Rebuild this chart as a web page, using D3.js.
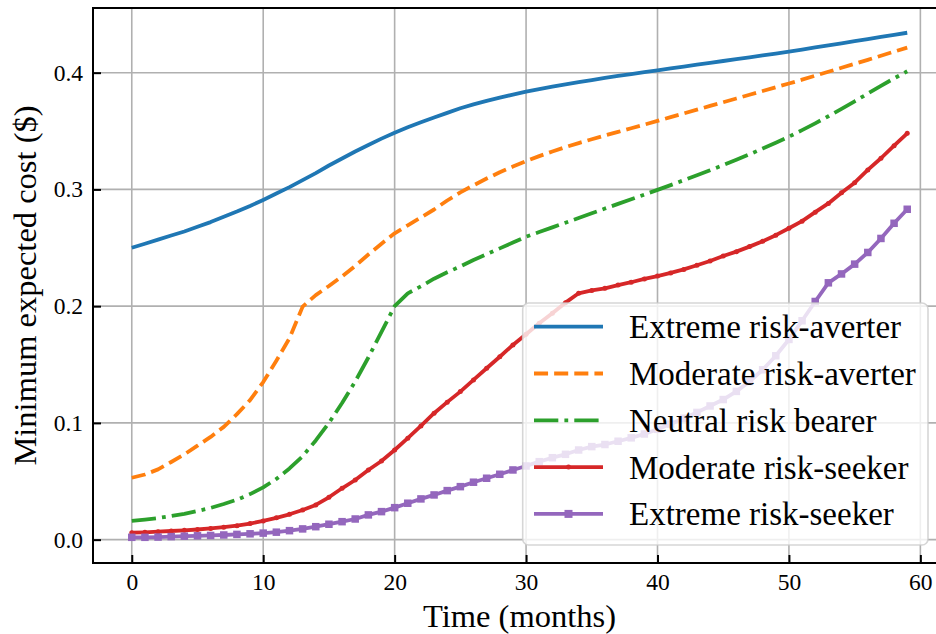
<!DOCTYPE html>
<html>
<head>
<meta charset="utf-8">
<script src="https://cdn.jsdelivr.net/npm/d3@7"></script>
<style>
  html, body { margin: 0; padding: 0; background: #ffffff; }
  svg { display: block; }
  svg text { font-family: "Liberation Serif", "Times New Roman", serif; fill: #000; }
</style>
</head>
<body>
<svg id="chart" width="936" height="634"></svg>
<script>
// Month index along the horizontal axis
const months = [0,1,2,3,4,5,6,7,8,9,10,11,12,13,14,15,16,17,18,19,
  20,21,22,23,24,25,26,27,28,29,30,31,32,33,34,35,36,37,38,39,
  40,41,42,43,44,45,46,47,48,49,50,51,52,53,54,55,56,57,58,59];

// Minimum expected cost per risk profile ($)
const extremeAverter = [0.250,0.2535,0.257,0.2605,0.264,0.268,0.272,0.2765,0.281,0.2858,
  0.291,0.2965,0.302,0.308,0.314,0.3205,0.3265,0.3325,0.338,0.3435,
  0.3486,0.3532,0.3575,0.3616,0.3656,0.3695,0.3728,0.3758,0.3786,0.3812,
  0.3837,0.3859,0.388,0.390,0.3919,0.3937,0.3955,0.3972,0.3988,0.4004,
  0.402,0.4036,0.4052,0.4068,0.4084,0.410,0.4116,0.4132,0.4148,0.4164,
  0.418,0.4198,0.4216,0.4234,0.4252,0.427,0.4288,0.4306,0.4324,0.4342];

const moderateAverter = [0.053,0.0558,0.0602,0.0665,0.073,0.0805,0.088,0.0966,0.1075,0.1195,
  0.135,0.1533,0.1725,0.1996,0.2095,0.2173,0.2255,0.2345,0.2443,0.2535,
  0.2624,0.2692,0.276,0.2828,0.2905,0.2975,0.3035,0.3093,0.3147,0.3196,
  0.3242,0.3285,0.3325,0.3362,0.3397,0.343,0.3462,0.3493,0.3524,0.3555,
  0.3587,0.3619,0.3651,0.3683,0.3715,0.3747,0.3779,0.3811,0.3843,0.3875,
  0.3907,0.394,0.3974,0.4008,0.4042,0.4076,0.411,0.4145,0.418,0.4215];

const neutralBearer = [0.016,0.0172,0.0185,0.0202,0.022,0.0245,0.0272,0.0305,0.0342,0.039,
  0.0448,0.052,0.061,0.0715,0.085,0.100,0.117,0.1355,0.156,0.178,
  0.200,0.211,0.217,0.2235,0.229,0.234,0.2395,0.2445,0.2495,0.2545,
  0.2595,0.2635,0.2675,0.2715,0.2755,0.2796,0.2836,0.2876,0.2916,0.2956,
  0.2996,0.3037,0.3079,0.3121,0.3164,0.3208,0.3254,0.3301,0.335,0.340,
  0.3452,0.3508,0.3566,0.3627,0.369,0.3755,0.3821,0.3887,0.3951,0.4012];

const moderateSeeker = [0.006,0.0063,0.0068,0.0074,0.008,0.0087,0.0096,0.0107,0.012,0.0138,
  0.016,0.0187,0.0217,0.0254,0.0297,0.0363,0.044,0.0511,0.0597,0.0674,
  0.0768,0.0869,0.0974,0.1083,0.1178,0.1268,0.1368,0.1468,0.1567,0.1668,
  0.176,0.1853,0.1939,0.203,0.211,0.2135,0.2153,0.2181,0.2205,0.2233,
  0.2258,0.2285,0.2315,0.235,0.2387,0.243,0.2467,0.251,0.2556,0.2608,
  0.2667,0.2728,0.2805,0.288,0.2972,0.3058,0.3167,0.3267,0.3375,0.3481];

const extremeSeeker = [0.002,0.002,0.0022,0.0026,0.003,0.0033,0.0036,0.004,0.0045,0.005,
  0.0056,0.0064,0.0077,0.0092,0.0111,0.0132,0.0154,0.0177,0.0212,0.024,
  0.0274,0.0312,0.0349,0.0383,0.042,0.0454,0.0492,0.0526,0.056,0.0597,
  0.0631,0.0668,0.0702,0.0731,0.0768,0.0797,0.0815,0.0843,0.0872,0.0905,
  0.0945,0.099,0.104,0.109,0.1145,0.120,0.127,0.1355,0.1455,0.1575,
  0.1715,0.1875,0.204,0.220,0.2276,0.236,0.246,0.258,0.271,0.283];

const seriesNames = ["Extreme risk-averter", "Moderate risk-averter", "Neutral risk bearer",
  "Moderate risk-seeker", "Extreme risk-seeker"];
const seriesColors = ["#1f77b4", "#ff7f0e", "#2ca02c", "#d62728", "#9467bd"];

const xTicks = [0, 10, 20, 30, 40, 50, 60];
const yTicks = [0.0, 0.1, 0.2, 0.3, 0.4];

const xTitle = "Time (months)";
const yTitle = "Minimum expected cost ($)";

const SERIF = "'Liberation Serif', 'Times New Roman', serif";

// Line style for each series
const LW = 3.8;
const styles = [
  { dash: null, marker: null },
  { dash: `${3.7*LW} ${1.6*LW}`, marker: null },
  { dash: `${6.4*LW} ${1.6*LW} ${1*LW} ${1.6*LW}`, marker: null },
  { dash: null, marker: "dot" },
  { dash: null, marker: "square" }
];

const seriesValues = [extremeAverter, moderateAverter, neutralBearer, moderateSeeker, extremeSeeker];
const series = seriesNames.map((name, i) => ({
  name,
  color: seriesColors[i],
  style: styles[i],
  points: months.map((m, j) => ({ x: m, y: seriesValues[i][j] }))
}));

// Plot frame
const svg = d3.select("#chart");
const plot = { left: 93, top: 8, right: 946, bottom: 563 };

const x = d3.scaleLinear().domain([-2.95, 61.95]).range([plot.left, plot.right]);
const y = d3.scaleLinear().domain([-0.02, 0.4554]).range([plot.bottom, plot.top]);

svg.append("defs").append("clipPath").attr("id", "plotClip")
  .append("rect")
  .attr("x", plot.left).attr("y", plot.top)
  .attr("width", plot.right - plot.left).attr("height", plot.bottom - plot.top);

// Grid
const grid = svg.append("g").attr("clip-path", "url(#plotClip)");
grid.selectAll("line.vgrid").data(xTicks).join("line")
  .attr("x1", d => x(d)).attr("x2", d => x(d))
  .attr("y1", plot.top).attr("y2", plot.bottom)
  .attr("stroke", "#b0b0b0").attr("stroke-width", 1.6);
grid.selectAll("line.hgrid").data(yTicks).join("line")
  .attr("x1", plot.left).attr("x2", plot.right)
  .attr("y1", d => y(d)).attr("y2", d => y(d))
  .attr("stroke", "#b0b0b0").attr("stroke-width", 1.6);

// Series lines and markers
const lineGen = d3.line().x(d => x(d.x)).y(d => y(d.y));
const marks = svg.append("g").attr("clip-path", "url(#plotClip)");

series.forEach(s => {
  const g = marks.append("g");
  g.append("path")
    .datum(s.points)
    .attr("d", lineGen)
    .attr("fill", "none")
    .attr("stroke", s.color)
    .attr("stroke-width", LW)
    .attr("stroke-linejoin", "round")
    .attr("stroke-dasharray", s.style.dash);
  if (s.style.marker === "dot") {
    g.selectAll("circle").data(s.points).join("circle")
      .attr("cx", d => x(d.x)).attr("cy", d => y(d.y))
      .attr("r", 2.5).attr("fill", s.color);
  } else if (s.style.marker === "square") {
    const sz = 7.5;
    g.selectAll("rect").data(s.points).join("rect")
      .attr("x", d => x(d.x) - sz / 2).attr("y", d => y(d.y) - sz / 2)
      .attr("width", sz).attr("height", sz).attr("fill", s.color);
  }
});

// Axes with inward ticks
const xAxis = d3.axisBottom(x).tickValues(xTicks).tickFormat(d3.format("d"))
  .tickSizeInner(-8).tickSizeOuter(0).tickPadding(10);
const yAxis = d3.axisLeft(y).tickValues(yTicks).tickFormat(d3.format(".1f"))
  .tickSizeInner(-8).tickSizeOuter(0).tickPadding(10);

const gx = svg.append("g").attr("transform", `translate(0,${plot.bottom})`).call(xAxis);
const gy = svg.append("g").attr("transform", `translate(${plot.left},0)`).call(yAxis);
[gx, gy].forEach(g => {
  g.attr("font-family", SERIF).attr("font-size", 23.5);
  g.select(".domain").remove();
  g.selectAll(".tick line").attr("stroke", "#000").attr("stroke-width", 2);
  g.selectAll(".tick text")
    .attr("font-family", SERIF)
    .style("font-family", SERIF)
    .style("font-size", "23.5px").attr("fill", "#000");
});
gx.selectAll(".tick text").attr("dy", "0.71em");

// Spines
svg.append("rect")
  .attr("x", plot.left).attr("y", plot.top)
  .attr("width", plot.right - plot.left).attr("height", plot.bottom - plot.top)
  .attr("fill", "none").attr("stroke", "#000").attr("stroke-width", 2);

// Axis titles
svg.append("text")
  .attr("x", (plot.left + plot.right) / 2).attr("y", 627)
  .attr("text-anchor", "middle")
  .style("font-size", "32.5px")
  .text(xTitle);

svg.append("text")
  .attr("transform", `translate(35.5,${(plot.top + plot.bottom) / 2}) rotate(-90)`)
  .attr("text-anchor", "middle")
  .style("font-size", "32.5px")
  .text(yTitle);

// Legend, lower right
const legend = svg.append("g");
const lg = { x: 522.7, y: 303, w: 405.3, h: 242, row0: 326.7, step: 46.8, hx1: 534, hx2: 603, tx: 629 };
legend.append("rect")
  .attr("x", lg.x).attr("y", lg.y).attr("width", lg.w).attr("height", lg.h)
  .attr("rx", 6).attr("ry", 6)
  .attr("fill", "#ffffff").attr("fill-opacity", 0.8)
  .attr("stroke", "#cccccc").attr("stroke-opacity", 0.8).attr("stroke-width", 1.6);

series.forEach((s, i) => {
  const cy = lg.row0 + i * lg.step;
  legend.append("line")
    .attr("x1", lg.hx1).attr("x2", lg.hx2).attr("y1", cy).attr("y2", cy)
    .attr("stroke", s.color).attr("stroke-width", LW)
    .attr("stroke-dasharray", s.style.dash);
  const mx = (lg.hx1 + lg.hx2) / 2;
  if (s.style.marker === "dot") {
    legend.append("circle").attr("cx", mx).attr("cy", cy).attr("r", 2.5).attr("fill", s.color);
  } else if (s.style.marker === "square") {
    legend.append("rect").attr("x", mx - 4).attr("y", cy - 4).attr("width", 8).attr("height", 8).attr("fill", s.color);
  }
  legend.append("text")
    .attr("x", lg.tx).attr("y", cy + 11.5)
    .style("font-size", "33px")
    .text(s.name);
});
</script>
</body>
</html>
